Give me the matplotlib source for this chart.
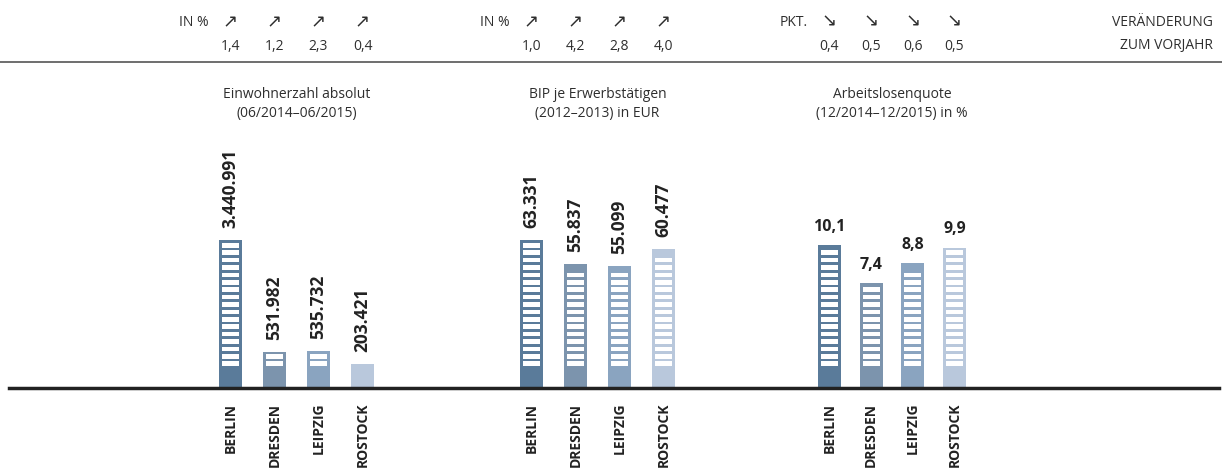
import numpy as np
import matplotlib
matplotlib.use('Agg')
import matplotlib.pyplot as plt
from matplotlib.patches import Rectangle

plt.rcParams['font.family'] = ['Open Sans', 'DejaVu Sans']

# Daten
cities = ['BERLIN', 'DRESDEN', 'LEIPZIG', 'ROSTOCK']
einwohner = [3440991, 531982, 535732, 203421]
bip = [63331, 55837, 55099, 60477]
alq = [10.1, 7.4, 8.8, 9.9]

einwohner_labels = ['3.440.991', '531.982', '535.732', '203.421']
bip_labels = ['63.331', '55.837', '55.099', '60.477']
alq_labels = ['10,1', '7,4', '8,8', '9,9']

einwohner_change = ['1,4', '1,2', '2,3', '0,4']
bip_change = ['1,0', '4,2', '2,8', '4,0']
alq_change = ['0,4', '0,5', '0,6', '0,5']

titles = ['Einwohnerzahl absolut\n(06/2014\u201306/2015)',
          'BIP je Erwerbstätigen\n(2012\u20132013) in EUR',
          'Arbeitslosenquote\n(12/2014\u201312/2015) in %']

bar_colors = ['#5a7b9a', '#7c94ad', '#8aa4c0', '#b9c8dc']
text_color = '#2e2e2e'

W, H = 1222, 469
fig = plt.figure(figsize=(W / 100, H / 100), dpi=100)

def fx(x):
    return x / W

def fy(y):
    return 1 - y / H

base_px = 388
ax_h_px = 200

# (linker Rand, Abstand der Balken, Wert an der Grundlinie, Pixel je Einheit)
groups = [
    dict(left=208.5, pitch=44, floor=-415600, ppu=3.85e-5, vals=einwohner,
         labels=einwohner_labels, rot=90, unit='IN %', arrow='\u2197', chg=einwohner_change),
    dict(left=509.5, pitch=44, floor=17124, ppu=0.003203, vals=bip,
         labels=bip_labels, rot=90, unit='IN %', arrow='\u2197', chg=bip_change),
    dict(left=808.5, pitch=41.7, floor=0, ppu=14.16, vals=alq,
         labels=alq_labels, rot=0, unit='PKT.', arrow='\u2198', chg=alq_change),
]

bar_px = 23
base_solid = 22
stripe_pitch = 7.4
stripe_h = 4.6
inset = 3

for g, title in zip(groups, titles):
    P = g['pitch']
    ax = fig.add_axes([fx(g['left']), fy(base_px), fx(4 * P), ax_h_px / H])
    ax.set_xlim(-0.5, 3.5)
    ax.set_ylim(g['floor'], g['floor'] + ax_h_px / g['ppu'])
    ax.axis('off')
    x = np.arange(4)
    vals = np.array(g['vals'], dtype=float)
    ax.bar(x, vals - g['floor'], bottom=g['floor'], width=bar_px / P,
           color=bar_colors, linewidth=0, zorder=2)

    # weiße Querstreifen in den Balken
    for xi, v in zip(x, vals):
        h_px = (v - g['floor']) * g['ppu']
        k = 0
        while base_solid + k * stripe_pitch + stripe_h <= h_px - 2:
            y0 = g['floor'] + (base_solid + k * stripe_pitch) / g['ppu']
            ax.add_patch(Rectangle((xi - (bar_px / 2 - inset) / P, y0),
                                   (bar_px - 2 * inset) / P, stripe_h / g['ppu'],
                                   facecolor='white', edgecolor='none', zorder=3))
            k += 1

        # Wertbeschriftung
        lab = g['labels'][int(xi)]
        if g['rot'] == 90:
            ax.annotate(lab, (xi, v), xytext=(0, 8.6), textcoords='offset points',
                        rotation=90, ha='center', va='bottom', fontsize=12.5,
                        fontweight='bold', color='#222222', annotation_clip=False)
        else:
            ax.annotate(lab, (xi, v), xytext=(0, 7.5), textcoords='offset points',
                        ha='center', va='bottom', fontsize=11.5,
                        fontweight='bold', color='#222222', annotation_clip=False)

        # Städtenamen unter der Grundlinie
        ax.annotate(cities[int(xi)], (xi, g['floor']), xytext=(0, -10.5),
                    textcoords='offset points', rotation=90, ha='center', va='top',
                    fontsize=10, fontweight='bold', color='#222222',
                    annotation_clip=False)

    # Kopfzeile mit Veränderungen
    centers = [g['left'] + P * (i + 0.5) for i in range(4)]
    fig.text(fx(centers[0] - 22), fy(22), g['unit'], ha='right', va='center',
             fontsize=10, color=text_color)
    for c, ch in zip(centers, g['chg']):
        fig.text(fx(c), fy(22), g['arrow'], ha='center', va='center',
                 fontsize=13, color=text_color, family=['DejaVu Sans'])
        fig.text(fx(c), fy(46), ch, ha='center', va='center',
                 fontsize=10, color=text_color)

    # Titel über der Gruppe
    mid = g['left'] + 2 * P
    fig.text(fx(mid), fy(104), title, ha='center', va='center', fontsize=10,
             color=text_color, linespacing=1.3)

fig.text(fx(1213), fy(22), 'VERÄNDERUNG', ha='right', va='center',
         fontsize=10, color=text_color)
fig.text(fx(1213), fy(46), 'ZUM VORJAHR', ha='right', va='center',
         fontsize=10, color=text_color)

# Linien oben und Grundlinie
fig.add_artist(plt.Line2D([fx(0), fx(1222)], [fy(62), fy(62)], color='#555555', lw=1.2))
fig.add_artist(plt.Line2D([fx(9), fx(1219)], [fy(base_px), fy(base_px)],
                          color='#222222', lw=2.5, zorder=5))

fig.savefig('out.png', dpi=100)
